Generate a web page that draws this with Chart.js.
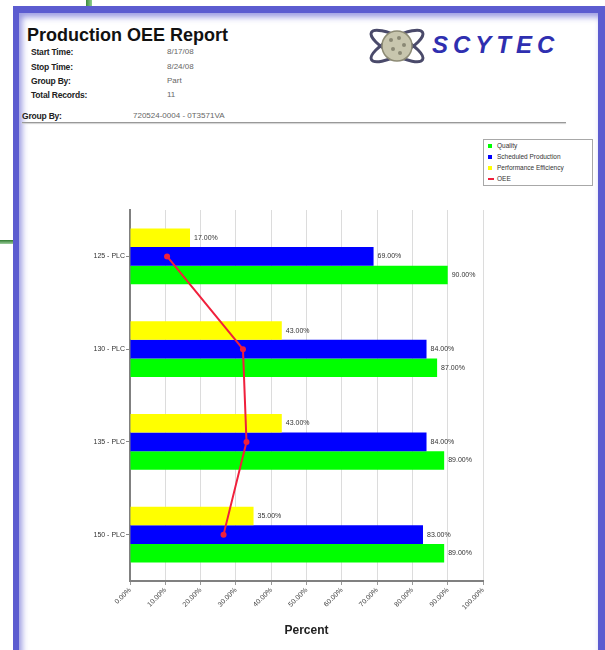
<!DOCTYPE html>
<html>
<head>
<meta charset="utf-8">
<script src="https://cdn.jsdelivr.net/npm/chart.js@4.4.1/dist/chart.umd.min.js"></script>
<style>
    body { margin: 0; width: 605px; height: 650px; overflow: hidden; background: #fff; font-family: "Liberation Sans", Arial, sans-serif; position: relative; }
    .abs { position: absolute; white-space: nowrap; }
    .frame { position: absolute; left: 13px; top: 6px; width: 592px; height: 660px; background: #5c5cd0; }
    .inner { position: absolute; left: 6px; top: 7px; right: 7px; bottom: 0; background: #fff; box-shadow: inset 3px 4px 6px rgba(70, 70, 200, 0.55); }
    .title { left: 27px; top: 26px; font-size: 18px; line-height: 18px; font-weight: bold; color: #111; }
    .lbl { font-size: 8.5px; line-height: 8.5px; font-weight: bold; color: #222; letter-spacing: -0.2px; }
    .val { font-size: 8px; line-height: 8px; color: #666; }
    .rule { position: absolute; left: 22px; top: 122px; width: 544px; height: 1px; background: #999; box-shadow: 0 1px 1px #ccc; }
    .logo { left: 432px; top: 33px; font-size: 24px; line-height: 24px; font-weight: bold; font-style: italic; color: #2f2fb0; letter-spacing: 5px; }
    #chartBox { position: absolute; left: 20px; top: 128px; width: 578px; height: 522px; }
    #legend { position: absolute; left: 483px; top: 139px; width: 108px; height: 45px; border: 1px solid #a8a8a8; background: #fff; font-size: 6.5px; color: #333; }
    #legend .item { position: absolute; left: 4px; height: 8px; line-height: 8px; white-space: nowrap; }
    #legend .mark { position: absolute; left: 0; top: 2px; width: 4px; height: 4px; }
    #legend .text { position: absolute; left: 9px; top: 0; white-space: nowrap; }
</style>
</head>
<body>
<div class="abs" style="left:86px;top:0;width:6px;height:7px;background:linear-gradient(90deg,#3c8a3c,#8fd08f);"></div>
<div class="abs" style="left:0;top:240px;width:14px;height:4px;background:linear-gradient(180deg,#2e7a2e,#9fd09f);"></div>
<div class="frame"><div class="inner"></div></div>

<div class="abs title">Production OEE Report</div>
<div class="abs lbl" style="left:31px;top:48px;">Start Time:</div>
<div class="abs lbl" style="left:31px;top:63px;">Stop Time:</div>
<div class="abs lbl" style="left:31px;top:77px;">Group By:</div>
<div class="abs lbl" style="left:31px;top:91px;">Total Records:</div>
<div class="abs val" style="left:167px;top:48px;">8/17/08</div>
<div class="abs val" style="left:167px;top:63px;">8/24/08</div>
<div class="abs val" style="left:167px;top:77px;">Part</div>
<div class="abs val" style="left:167px;top:91px;">11</div>
<div class="abs lbl" style="left:22px;top:112px;">Group By:</div>
<div class="abs val" style="left:133px;top:112px;">720524-0004 - 0T3571VA</div>
<div class="rule"></div>

<svg class="abs" style="left:366px;top:26px;" width="62" height="40" viewBox="0 0 62 40">
    <ellipse cx="31" cy="20" rx="29" ry="9" transform="rotate(28 31 20)" fill="none" stroke="#4a4a6a" stroke-width="3"/>
    <ellipse cx="31" cy="20" rx="29" ry="9" transform="rotate(-28 31 20)" fill="none" stroke="#4a4a6a" stroke-width="3"/>
    <circle cx="31" cy="20" r="15" fill="#c8c6ae" stroke="#8c8a74" stroke-width="1.5"/>
    <circle cx="25" cy="14" r="2" fill="#8a8874"/>
    <circle cx="33" cy="12" r="2" fill="#8a8874"/>
    <circle cx="38" cy="19" r="2" fill="#8a8874"/>
    <circle cx="27" cy="23" r="2" fill="#8a8874"/>
    <circle cx="34" cy="27" r="2" fill="#8a8874"/>
</svg>
<div class="abs logo">SCYTEC</div>

<div id="chartBox"><canvas id="oeeChart"></canvas></div>
<div id="legend"></div>

<script>
// Chart data
const categories = ['125 - PLC', '130 - PLC', '135 - PLC', '150 - PLC'];
const performanceEfficiency = [17, 43, 43, 35];
const scheduledProduction = [69, 84, 84, 83];
const quality = [90, 87, 89, 89];
const oee = [10.5, 32, 33, 26.5];
const percentTicks = [0, 10, 20, 30, 40, 50, 60, 70, 80, 90, 100];

// Draws the value next to each bar end
const barValueLabels = {
    id: 'barValueLabels',
    afterDatasetsDraw(chart) {
        const ctx = chart.ctx;
        ctx.save();
        ctx.font = '7px "Liberation Sans", Arial, sans-serif';
        ctx.fillStyle = '#333';
        ctx.textAlign = 'left';
        ctx.textBaseline = 'middle';
        chart.data.datasets.forEach((ds, i) => {
            if (ds.type !== 'bar') return;
            chart.getDatasetMeta(i).data.forEach((bar, j) => {
                ctx.fillText(ds.data[j].toFixed(2) + '%', bar.x + 4, bar.y);
            });
        });
        ctx.restore();
    }
};

document.addEventListener('DOMContentLoaded', function() {
    const ctx = document.getElementById('oeeChart').getContext('2d');
    const chart = new Chart(ctx, {
        data: {
            labels: categories,
            datasets: [
                { type: 'bar', label: 'Performance Efficiency', data: performanceEfficiency, backgroundColor: '#ffff00' },
                { type: 'bar', label: 'Scheduled Production', data: scheduledProduction, backgroundColor: '#0000ff' },
                { type: 'bar', label: 'Quality', data: quality, backgroundColor: '#00ff00' },
                {
                    type: 'line', label: 'OEE', data: oee, order: -1,
                    borderColor: '#f0203c', backgroundColor: '#f0203c',
                    borderWidth: 2, pointRadius: 3, pointBackgroundColor: '#f0203c',
                    pointBorderWidth: 0, tension: 0, fill: false
                }
            ]
        },
        options: {
            indexAxis: 'y',
            responsive: true,
            maintainAspectRatio: false,
            animation: false,
            datasets: {
                bar: { categoryPercentage: 0.6, barPercentage: 1.0, borderWidth: 0 }
            },
            layout: { padding: { top: 82, right: 115, left: 0, bottom: 0 } },
            plugins: {
                legend: { display: false },
                tooltip: { enabled: false }
            },
            scales: {
                x: {
                    type: 'linear',
                    min: 0,
                    max: 100,
                    afterBuildTicks: scale => { scale.ticks = percentTicks.map(v => ({ value: v })); },
                    afterFit: scale => { scale.height = 69; },
                    ticks: {
                        callback: v => v.toFixed(2) + '%',
                        minRotation: 45,
                        maxRotation: 45,
                        padding: 1,
                        color: '#444',
                        font: { size: 7, family: '"Liberation Sans", Arial, sans-serif' }
                    },
                    grid: { color: '#dcdcdc', lineWidth: 1, tickLength: 4, tickColor: '#999' },
                    border: { color: '#808080', width: 2 },
                    title: {
                        display: true,
                        text: 'Percent',
                        color: '#222',
                        font: { size: 12, weight: 'bold', family: '"Liberation Sans", Arial, sans-serif' },
                        padding: { top: 0, bottom: 12 }
                    }
                },
                y: {
                    type: 'category',
                    afterFit: scale => { scale.width = 110; },
                    ticks: {
                        color: '#333',
                        padding: 1,
                        font: { size: 7, family: '"Liberation Sans", Arial, sans-serif' }
                    },
                    grid: { drawOnChartArea: false, offset: false, tickLength: 4, tickColor: '#888' },
                    border: { color: '#808080', width: 2 }
                }
            }
        },
        plugins: [barValueLabels]
    });

    // Boxed legend in the same order as the report
    const legendOrder = ['Quality', 'Scheduled Production', 'Performance Efficiency', 'OEE'];
    const legend = document.getElementById('legend');
    legendOrder.forEach((name, i) => {
        const ds = chart.data.datasets.find(d => d.label === name);
        const item = document.createElement('div');
        item.className = 'item';
        item.style.top = (2 + i * 11) + 'px';
        const mark = ds.type === 'line'
            ? `<span class="mark" style="top:3px;width:6px;height:2px;background:${ds.borderColor}"></span>`
            : `<span class="mark" style="background:${ds.backgroundColor}"></span>`;
        item.innerHTML = mark + `<span class="text">${name}</span>`;
        legend.appendChild(item);
    });
});
</script>
</body>
</html>
